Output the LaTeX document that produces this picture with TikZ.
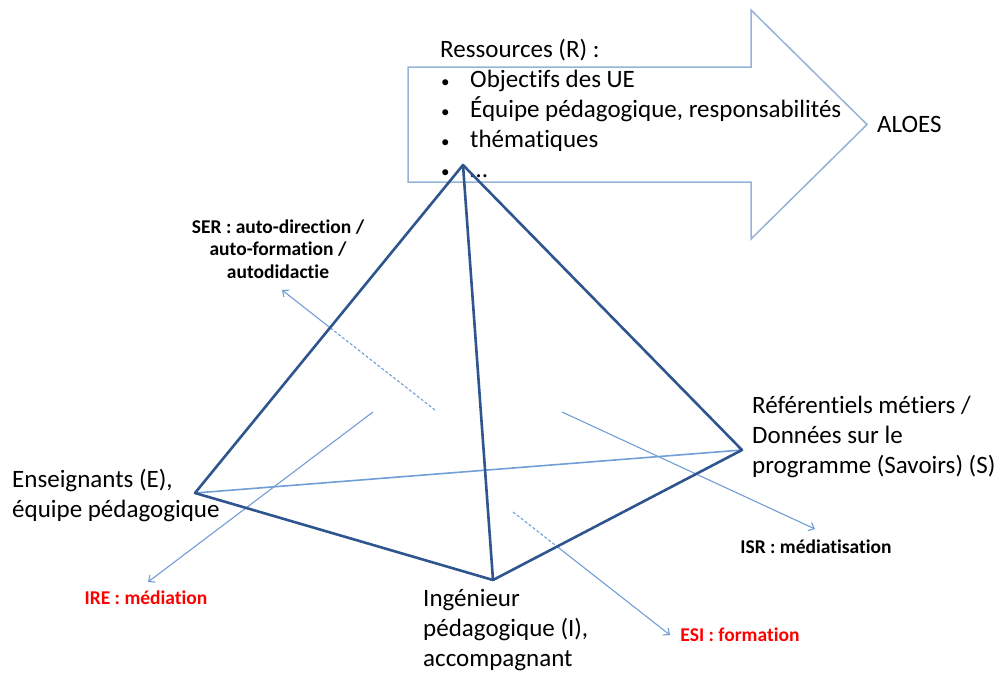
\documentclass[tikz,border=0pt]{standalone}
\usepackage{fontspec}
\setmainfont{Carlito}[RawFeature=-liga]
\usepackage{tikz}
\usetikzlibrary{arrows.meta}
\definecolor{edgeblue}{RGB}{47,85,143}
\definecolor{lightblue}{RGB}{112,158,214}
\definecolor{arrowgray}{RGB}{149,179,215}
\definecolor{labred}{RGB}{255,0,0}
\newcommand{\resitem}[1]{\hspace*{1pt}\makebox[29pt][l]{\fontsize{17}{17}\selectfont •}#1}

\begin{document}
\begin{tikzpicture}[x=1pt,y=-1pt,
  edge/.style={line width=2.6pt,edgeblue,line join=round},
  hid/.style={line width=1.6pt,lightblue},
  lnk/.style={line width=1.1pt,lightblue},
  tip/.style={-{Straight Barb[length=5pt,width=9pt]}},
  txt/.style={inner sep=0pt,align=left,anchor=base west,font=\fontsize{25}{30}\selectfont},
  rel/.style={inner sep=0pt,align=center,anchor=base,font=\fontsize{19.5}{22.5}\selectfont\bfseries}]
\useasboundingbox (0,0) rectangle (994,673);
% fleche des ressources
\draw[arrowgray,line width=1.5pt] (408,67) -- (751,67) -- (751,10) -- (867,124.5)
  -- (751,239) -- (751,182) -- (408,182) -- cycle;
\node[txt] (res) at (440,177) {Ressources (R) :\\
  \resitem{Objectifs des UE}\\
  \resitem{Équipe pédagogique, responsabilités}\\
  \resitem{thématiques}\\
  \resitem{…}};
\node[txt] (aloes) at (877,132) {ALOES};
% sommets
\coordinate (apex) at (463,165);
\coordinate (ens) at (195,493);
\coordinate (ing) at (493,580);
\coordinate (sav) at (742,450);
\node[txt] (enslab) at (12,517) {Enseignants (E),\\ équipe pédagogique};
\node[txt] (inglab) at (423,666) {Ingénieur\\ pédagogique (I),\\ accompagnant};
\node[txt] (savlab) at (752,473) {Référentiels métiers /\\ Données sur le\\ programme (Savoirs) (S)};
% relations
\node[rel] (ser) at (278,278) {SER : auto-direction /\\ auto-formation /\\ autodidactie};
\node[rel,labred] (ire) at (146,604) {IRE : médiation};
\node[rel] (isr) at (816,553) {ISR : médiatisation};
\node[rel,labred] (esi) at (740,641) {ESI : formation};
\coordinate (serin) at (435,410);
\coordinate (serout) at (282,290);
\coordinate (irein) at (373,412);
\coordinate (ireout) at (148,582);
\coordinate (isrin) at (562,412);
\coordinate (isrout) at (815,529);
\coordinate (esiin) at (513,512);
\coordinate (esiout) at (670,635);
\coordinate (serx) at (intersection of apex--ens and serin--serout);
\coordinate (esix) at (intersection of ing--sav and esiin--esiout);
\draw[hid] (ens) -- (sav);
\draw[lnk,dash pattern=on 3pt off 2pt] (serin) -- (serx);
\draw[lnk,tip] (serx) -- (serout);
\draw[lnk,tip] (irein) -- (ireout);
\draw[lnk,tip] (isrin) -- (isrout);
\draw[lnk,dash pattern=on 3pt off 2pt] (esiin) -- (esix);
\draw[lnk,tip] (esix) -- (esiout);
% pyramide
\draw[edge] (ens) -- (apex) -- (sav) -- (ing) -- cycle;
\draw[edge] (apex) -- (ing);
\end{tikzpicture}
\end{document}
